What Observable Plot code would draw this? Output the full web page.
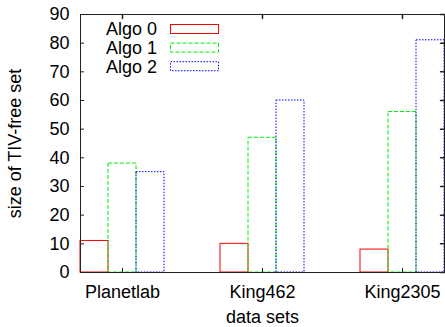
<!DOCTYPE html>
<html>
<head>
<meta charset="utf-8">
<script src="https://cdn.jsdelivr.net/npm/d3@7"></script>
<script src="https://cdn.jsdelivr.net/npm/@observablehq/plot@0.6"></script>
<style>
  html, body { margin: 0; padding: 0; background: #fff; }
  #chart svg { display: block; }
</style>
</head>
<body>
<div id="chart"></div>
<script>
const groups = ["Planetlab", "King462", "King2305"];
const algos = ["Algo 0", "Algo 1", "Algo 2"];
const algo0 = [11, 10, 8];
const algo1 = [38, 47, 56];
const algo2 = [35, 60, 81];
const yTicks = [0, 10, 20, 30, 40, 50, 60, 70, 80, 90];
const xLabel = "data sets";
const yLabel = "size of TIV-free set";

const colors = ["#ff0000", "#00ee00", "#0000ff"];
const dashes = [null, "4,2", "1.5,1.5"];
const series = [algo0, algo1, algo2];

const rows = [];
series.forEach((vals, ai) => vals.forEach((v, gi) => rows.push({group: groups[gi], gi, algo: algos[ai], ai, value: v})));

const barW = 0.2;
const center = d => d.gi + (d.ai - 1) * barW;

const font = "'Liberation Sans', Arial, Helvetica, sans-serif";
const tickShape = {draw(ctx, l) { ctx.moveTo(0, 0); ctx.lineTo(0, -l); }};

const plot = Plot.plot({
  width: 445,
  height: 327,
  marginLeft: 80,
  marginRight: 1,
  marginTop: 14,
  marginBottom: 55,
  style: {fontFamily: font, fontSize: "18px", background: "#fff", color: "#000"},
  x: {type: "linear", domain: [-0.3, 2.3], axis: null},
  y: {domain: [0, 90], axis: null},
  marks: [
    ...algos.map((a, ai) => Plot.rect(rows.filter(r => r.ai === ai), {
      x1: d => center(d) - barW / 2,
      x2: d => center(d) + barW / 2,
      y1: 0,
      y2: "value",
      fill: "none",
      stroke: colors[ai],
      strokeWidth: 1,
      strokeDasharray: dashes[ai]
    })),
    Plot.frame({stroke: "#222", strokeWidth: 1}),
    Plot.axisY(yTicks, {anchor: "left", tickSize: -4, tickPadding: 15, label: null, fontSize: 18, stroke: "#222"}),
    Plot.vector(yTicks, {y: d => d, frameAnchor: "right", length: 4, rotate: -90, anchor: "start", shape: tickShape, stroke: "#222"}),
    Plot.axisX([0, 1, 2], {anchor: "bottom", tickSize: -4, tickPadding: 17, tickFormat: i => groups[i], label: null, fontSize: 18, stroke: "#222"}),
    Plot.vector([0, 1, 2], {x: d => d, frameAnchor: "top", length: 4, rotate: 180, anchor: "start", shape: tickShape, stroke: "#222"}),
    Plot.text([xLabel], {frameAnchor: "bottom", dy: 38, lineAnchor: "top", fontSize: 18}),
    Plot.text([yLabel], {frameAnchor: "left", textAnchor: "middle", dx: -65, rotate: -90, fontSize: 18})
  ]
});

document.getElementById("chart").appendChild(plot);

const svg = d3.select(plot);
const lg = svg.append("g").attr("font-family", font).attr("font-size", 18);
algos.forEach((a, i) => {
  const cy = 29 + i * 18.6;
  lg.append("text").attr("x", 157).attr("y", cy).attr("dy", "0.35em")
    .attr("text-anchor", "end").attr("fill", "#000").text(a);
  lg.append("rect").attr("x", 170.5).attr("y", cy - 4.5).attr("width", 48).attr("height", 9)
    .attr("fill", "none").attr("stroke", colors[i]).attr("stroke-width", 1)
    .attr("stroke-dasharray", dashes[i]);
});
</script>
</body>
</html>
